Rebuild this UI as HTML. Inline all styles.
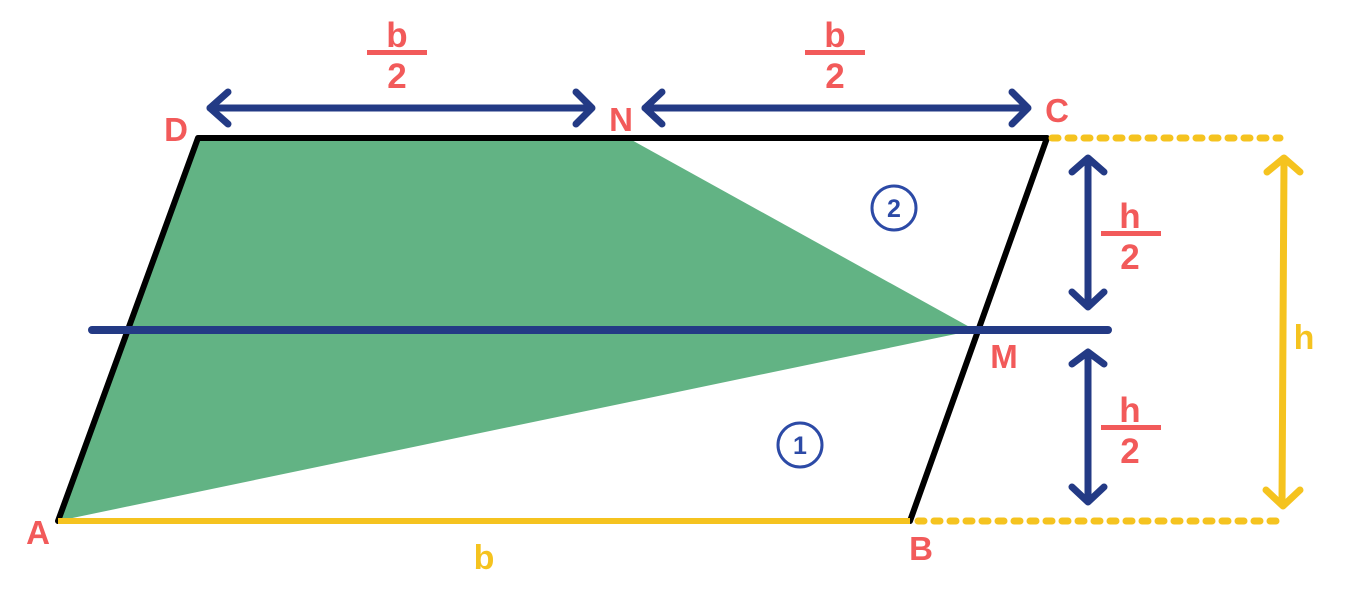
<!DOCTYPE html><html><head><style>body{margin:0;background:#fff}svg{display:block}</style></head><body>
<svg width="1359" height="595" viewBox="0 0 1359 595" xmlns="http://www.w3.org/2000/svg" font-family="Liberation Sans, sans-serif" font-weight="bold">
<polygon points="58,521 198,138 628,138 975,330" fill="#62b384"/>
<polygon points="58,521 910,521 1047,138 198,138" fill="none" stroke="#000" stroke-width="6" stroke-linejoin="round"/>
<line x1="58" y1="521" x2="910" y2="521" stroke="#f5c31f" stroke-width="6"/>
<line x1="92" y1="330" x2="1108" y2="330" stroke="#233a85" stroke-width="8" stroke-linecap="round"/>
<g stroke="#f5c31f" stroke-width="7" stroke-linecap="round" stroke-dasharray="6 10" fill="none">
<line x1="1052" y1="138" x2="1280" y2="138"/><line x1="918" y1="521" x2="1283" y2="521"/></g>
<g stroke="#233a85" stroke-width="7" stroke-linecap="round" stroke-linejoin="round" fill="none">
<line x1="210" y1="108" x2="590" y2="108"/><path d="M228,92 L210,108 L228,124"/><path d="M576,92 L592,108 L576,124"/>
<line x1="645" y1="108" x2="1027" y2="108"/><path d="M662,92 L645,108 L662,124"/><path d="M1012,92 L1028,108 L1012,124"/>
<line x1="1088" y1="160" x2="1088" y2="305"/><path d="M1072,172 L1088,158 L1104,172"/><path d="M1072,292 L1088,307 L1104,292"/>
<line x1="1088" y1="354" x2="1088" y2="500"/><path d="M1072,364 L1088,352 L1104,364"/><path d="M1072,487 L1088,502 L1104,487"/>
</g>
<g stroke="#f5c31f" stroke-width="7" stroke-linecap="round" stroke-linejoin="round" fill="none">
<line x1="1284" y1="160" x2="1282" y2="504"/><path d="M1267,172 L1284,158 L1300,172"/><path d="M1266,490 L1283,506 L1300,490"/>
</g>
<g fill="#f25a5a" font-size="35">
<text x="397" y="47" text-anchor="middle">b</text><rect x="367" y="50" width="60" height="5"/><text x="397" y="88" text-anchor="middle">2</text>
<text x="835" y="47" text-anchor="middle">b</text><rect x="805" y="50" width="60" height="5"/><text x="835" y="88" text-anchor="middle">2</text>
<text x="1130" y="228" text-anchor="middle">h</text><rect x="1101" y="231" width="60" height="5"/><text x="1130" y="269" text-anchor="middle">2</text>
<text x="1130" y="422" text-anchor="middle">h</text><rect x="1101" y="425" width="60" height="5"/><text x="1130" y="463" text-anchor="middle">2</text>
</g>
<g fill="#f25a5a" font-size="33">
<text x="176" y="141" text-anchor="middle">D</text><text x="621" y="131" text-anchor="middle">N</text>
<text x="1057" y="122" text-anchor="middle">C</text><text x="1004" y="368" text-anchor="middle">M</text>
<text x="38" y="544" text-anchor="middle">A</text><text x="921" y="560" text-anchor="middle">B</text>
</g>
<g fill="#f5c31f" font-size="34"><text x="484" y="569" text-anchor="middle">b</text><text x="1304" y="349" text-anchor="middle">h</text></g>
<g stroke="#2c4aa6" stroke-width="3" fill="none"><circle cx="894" cy="208" r="22"/><circle cx="800" cy="445" r="22"/></g>
<g fill="#2c4aa6" font-size="25"><text x="894" y="217" text-anchor="middle">2</text><text x="800" y="454" text-anchor="middle">1</text></g>
</svg></body></html>
